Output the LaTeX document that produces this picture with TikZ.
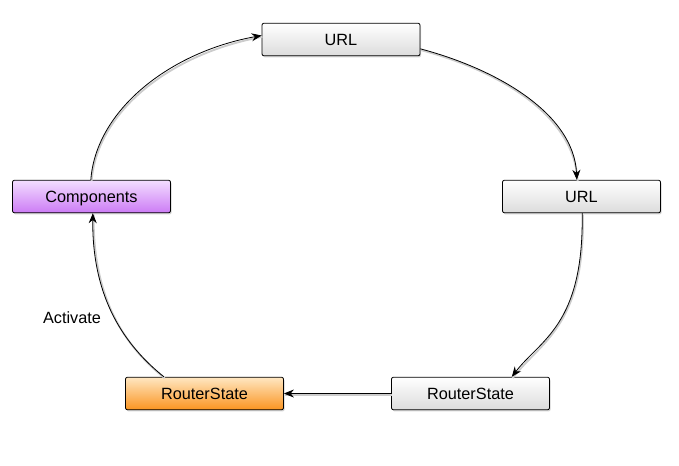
\documentclass[tikz,border=0pt]{standalone}
\usepackage{fontspec}
\setmainfont{Liberation Sans}
\usetikzlibrary{shadows,arrows.meta}
\definecolor{grayT}{HTML}{FFFFFF}
\definecolor{grayB}{HTML}{DCDCDC}
\definecolor{purT}{HTML}{F3DEFF}
\definecolor{purB}{HTML}{CC7BF5}
\definecolor{orT}{HTML}{FFE7C2}
\definecolor{orB}{HTML}{FA9420}
\tikzset{
  box/.style={draw=black, line width=0.6pt, rounded corners=1.5pt, minimum width=118.5pt, minimum height=24.5pt,
    inner sep=0pt, text height=9.6pt, text depth=0pt, font=\fontsize{12.2}{14}\selectfont,
    drop shadow={shadow xshift=0.8pt, shadow yshift=-1.2pt, opacity=0.35, fill=gray}},
  graybox/.style={box, top color=grayT, bottom color=grayB},
  purbox/.style={box, top color=purT, bottom color=purB},
  orbox/.style={box, top color=orT, bottom color=orB},
  conn/.style={line width=0.6pt, -{Stealth[length=7.5pt,width=6pt]},
    preaction={draw=gray!40, line width=1.4pt, transform canvas={xshift=0.6pt,yshift=-1pt}, -{}}},
}
\begin{document}
\begin{tikzpicture}[x=0.75pt,y=-0.75pt]
\useasboundingbox (0,0) rectangle (679,465);
\node[graybox] (url1) at (341,39.5) {URL};
\node[purbox] (comp) at (91.5,196.5) {Components};
\node[graybox] (url2) at (581.5,196.5) {URL};
\node[orbox] (rs1) at (204.5,393.5) {RouterState};
\node[graybox] (rs2) at (470.5,393.5) {RouterState};
\node[font=\fontsize{12.2}{14}\selectfont] (act) at (72,318) {Activate};

\draw[conn] ([xshift=-0.5pt]comp.north) .. controls (96,110) and (170,52) .. ([yshift=3pt]url1.west);
\draw[conn] ([yshift=-7pt]url1.east) .. controls (500,70) and (574,115) .. ([xshift=-3.5pt]url2.north);
\draw[conn] ([xshift=0.5pt]url2.south) .. controls (584,325) and (540,340) .. ([xshift=31pt]rs2.north);
\draw[conn] (rs2.west) -- (rs1.east);
\draw[conn] ([xshift=-30.5pt]rs1.north) .. controls (118,340) and (92,290) .. ([xshift=1pt]comp.south);
\end{tikzpicture}
\end{document}
